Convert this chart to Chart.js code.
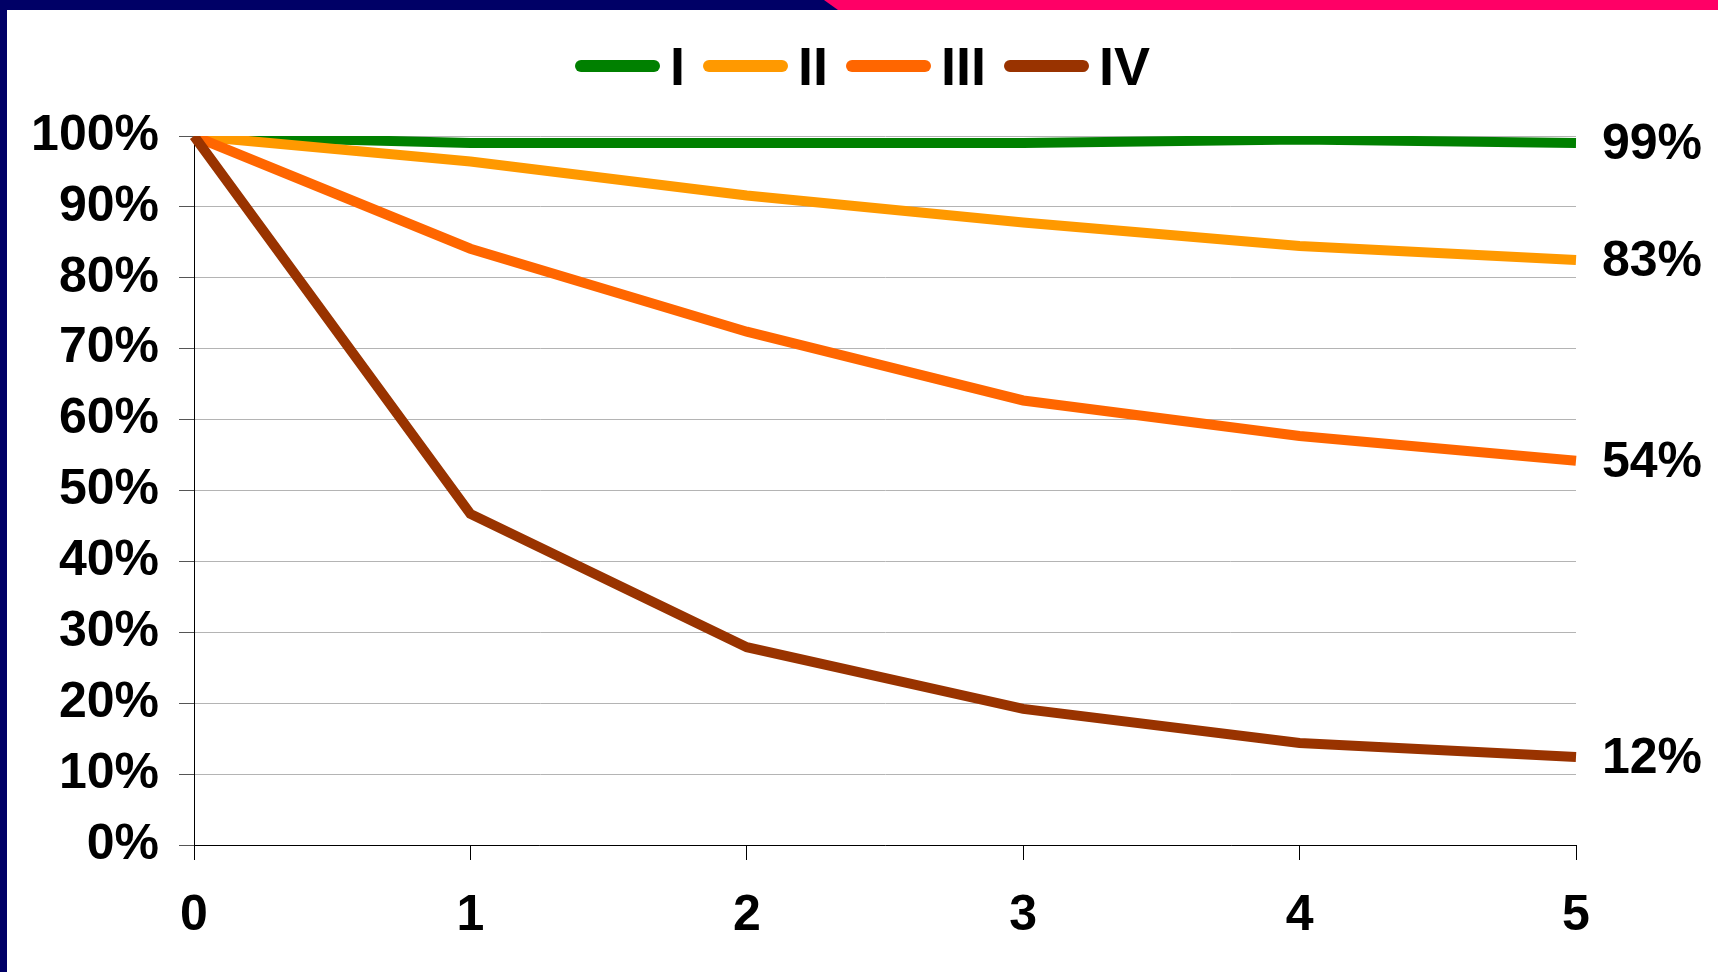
<!DOCTYPE html>
<html>
<head>
<meta charset="utf-8">
<script src="https://cdn.jsdelivr.net/npm/chart.js@4"></script>
<style>
  html, body { margin: 0; padding: 0; background: #fff; }
  #wrap { position: relative; width: 1718px; height: 972px; overflow: hidden; }
  #legend { position: absolute; top: 33px; left: 575px; height: 66px; display: flex; align-items: center;
            font: bold 54px "Liberation Sans", Arial, sans-serif; color: #000; }
  #legend .item { display: flex; align-items: center; margin-right: 18px; }
  #legend .swatch { width: 85px; height: 12px; border-radius: 6px; margin-right: 10px; }
</style>
</head>
<body>
<div id="wrap">
  <canvas id="chart" width="1718" height="972"></canvas>
  <div id="legend"></div>
</div>
<script>
// years on the x axis, survival in %
const years = ['0', '1', '2', '3', '4', '5'];
const seriesNames = ['I', 'II', 'III', 'IV'];
const seriesColors = ['#008000', '#FF9900', '#FF6600', '#993300'];

const stageI = [100, 99, 99, 99, 99.5, 99];
const stageII = [100, 96.4, 91.6, 87.8, 84.5, 82.5];
const stageIII = [100, 84.1, 72.4, 62.7, 57.7, 54.2];
const stageIV = [100, 46.7, 27.9, 19.2, 14.4, 12.4];
const allSeries = [stageI, stageII, stageIII, stageIV];

const FONT = '"Liberation Sans", Arial, sans-serif';

// frame: navy left bar + navy/pink top bar
const framePlugin = {
  id: 'frame',
  beforeDraw(chart) {
    const ctx = chart.ctx;
    ctx.save();
    ctx.fillStyle = '#fff';
    ctx.fillRect(0, 0, chart.width, chart.height);
    ctx.fillStyle = '#000066';
    ctx.fillRect(0, 0, chart.width, 10);
    ctx.fillRect(0, 0, 7, chart.height);
    ctx.fillStyle = '#FF0066';
    ctx.beginPath();
    ctx.moveTo(824, 0);
    ctx.lineTo(chart.width, 0);
    ctx.lineTo(chart.width, 10);
    ctx.lineTo(838, 10);
    ctx.closePath();
    ctx.fill();
    ctx.restore();
  }
};

// last value written at the right of each line
const endLabels = {
  id: 'endLabels',
  afterDatasetsDraw(chart) {
    const ctx = chart.ctx;
    ctx.save();
    ctx.font = 'bold 50px ' + FONT;
    ctx.fillStyle = '#000';
    ctx.textAlign = 'left';
    ctx.textBaseline = 'middle';
    chart.data.datasets.forEach((ds, i) => {
      const meta = chart.getDatasetMeta(i);
      const last = meta.data[meta.data.length - 1];
      const v = ds.data[ds.data.length - 1];
      ctx.fillText(Math.round(v) + '%', chart.chartArea.right + 26, last.y + 2);
    });
    ctx.restore();
  }
};

const datasets = allSeries.map((data, i) => ({
  label: seriesNames[i],
  data: data,
  borderColor: seriesColors[i],
  backgroundColor: seriesColors[i],
  borderWidth: 10,
  pointRadius: 0,
  tension: 0,
  fill: false,
  order: 3 - i // brown on top, green underneath
}));

new Chart(document.getElementById('chart').getContext('2d'), {
  type: 'line',
  data: { labels: years, datasets: datasets },
  plugins: [framePlugin, endLabels],
  options: {
    responsive: false,
    animation: false,
    layout: { padding: { left: 0, right: 142, top: 136, bottom: 0 } },
    plugins: { legend: { display: false }, tooltip: { enabled: false } },
    scales: {
      x: {
        offset: false,
        grid: { display: true, drawOnChartArea: false, drawTicks: true, tickLength: 15, tickColor: '#000', lineWidth: 1 },
        border: { color: '#000', width: 1 },
        ticks: { color: '#000', font: { family: FONT, size: 50, weight: 'bold' }, padding: 26, maxRotation: 0 }
      },
      y: {
        min: 0,
        max: 100,
        afterFit(scale) { scale.width = 194; },
        grid: { color: '#b4b4b4', lineWidth: 1, tickLength: 15, tickColor: '#555' },
        border: { color: '#000', width: 1 },
        ticks: {
          stepSize: 10,
          color: '#000',
          padding: 20,
          font: { family: FONT, size: 50, weight: 'bold' },
          callback: v => v + '%'
        }
      }
    }
  }
});

// html legend built from the same names/colours
const legend = document.getElementById('legend');
seriesNames.forEach((name, i) => {
  const item = document.createElement('div');
  item.className = 'item';
  const sw = document.createElement('div');
  sw.className = 'swatch';
  sw.style.background = seriesColors[i];
  const txt = document.createElement('span');
  txt.textContent = name;
  item.appendChild(sw);
  item.appendChild(txt);
  legend.appendChild(item);
});
</script>
</body>
</html>
